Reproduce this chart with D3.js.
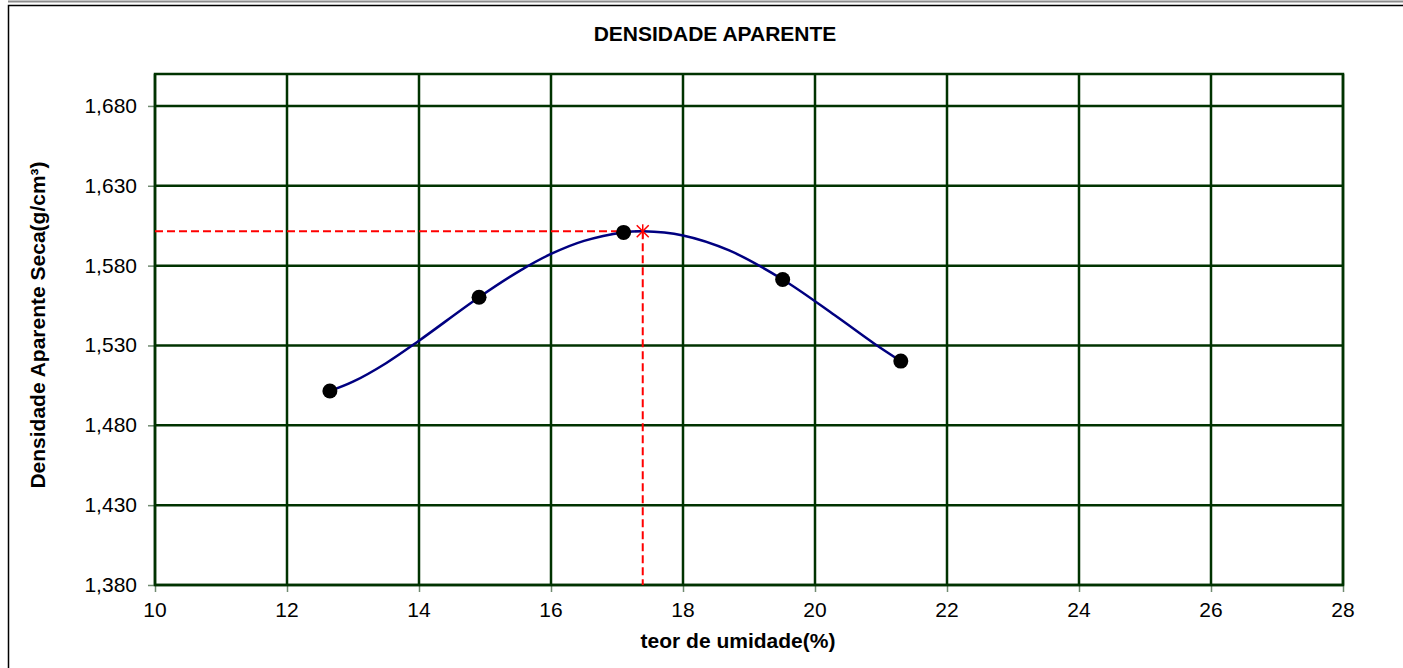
<!DOCTYPE html>
<html>
<head>
<meta charset="utf-8">
<script src="https://cdn.jsdelivr.net/npm/d3@7"></script>
<style>
  body { margin: 0; background: #fff; }
  svg { display: block; font-family: Arial, "Liberation Sans", sans-serif; }
</style>
</head>
<body>
<svg id="chart" width="1403" height="668"></svg>
<script>
const umidade = [12.65, 14.91, 17.10, 19.51, 21.30];
const densidade = [1.5015, 1.5602, 1.6008, 1.5713, 1.5202];
// the smoothed curve as drawn in the picture, read at several x positions
const curvaUmidade = [12.65, 13.0, 13.5, 14.0, 14.91, 15.5, 16.0, 16.5, 17.10, 17.39, 18.0, 18.7, 19.51, 20.3, 20.9, 21.30];
const curvaDensidade = [1.5015, 1.5073, 1.5189, 1.5330, 1.5602, 1.5761, 1.5873, 1.5955, 1.6008, 1.6015, 1.5989, 1.5895, 1.5713, 1.5489, 1.5311, 1.5202];
// optimum (star)
const umidadeOtima = [17.39];
const densidadeMaxima = [1.6015];
const xTicks = [10, 12, 14, 16, 18, 20, 22, 24, 26, 28];
const yTicks = [1.38, 1.43, 1.48, 1.53, 1.58, 1.63, 1.68];

const titulo = 'DENSIDADE APARENTE';
const xTitulo = 'teor de umidade(%)';
const yTitulo = 'Densidade Aparente Seca(g/cm³)';

const W = 1403, H = 668;
const plot = { left: 155, right: 1343, top: 74, bottom: 585 };
const gridColor = '#003300';
const fontSize = 21;

const svg = d3.select('#chart');

// outer frame
svg.append('line')
    .attr('x1', 8).attr('x2', W).attr('y1', 1.5).attr('y2', 1.5)
    .attr('stroke', '#8c8c8c').attr('stroke-width', 2);
svg.append('rect')
    .attr('x', 8.5).attr('y', 5.5)
    .attr('width', W + 10).attr('height', H + 10)
    .attr('fill', 'none').attr('stroke', '#000').attr('stroke-width', 1.5);

const x = d3.scaleLinear().domain([10, 28]).range([plot.left, plot.right]);
const y = d3.scaleLinear().domain([1.38, 1.70]).range([plot.bottom, plot.top]);

// tick marks (outside)
const xAxis = d3.axisBottom(x).tickValues(xTicks).tickSize(7).tickFormat('');
const yAxis = d3.axisLeft(y).tickValues(yTicks).tickSize(7).tickFormat('');
const gx = svg.append('g').attr('transform', `translate(0,${plot.bottom})`).call(xAxis);
const gy = svg.append('g').attr('transform', `translate(${plot.left},0)`).call(yAxis);
[gx, gy].forEach(g => {
    g.select('.domain').remove();
    g.selectAll('.tick line').attr('stroke', '#6f8a6f').attr('stroke-width', 1.5);
});

// grid
const grid = svg.append('g').attr('stroke', gridColor).attr('stroke-width', 2.5);
grid.selectAll('.vx').data(xTicks).enter().append('line')
    .attr('x1', d => x(d)).attr('x2', d => x(d))
    .attr('y1', plot.top).attr('y2', plot.bottom);
grid.selectAll('.hy').data(yTicks).enter().append('line')
    .attr('x1', plot.left).attr('x2', plot.right)
    .attr('y1', d => y(d)).attr('y2', d => y(d));
grid.append('rect')
    .attr('x', plot.left).attr('y', plot.top)
    .attr('width', plot.right - plot.left).attr('height', plot.bottom - plot.top)
    .attr('fill', 'none');

// tick labels
const fmt = d => d3.format('.3f')(d).replace('.', ',');
svg.append('g').selectAll('text').data(xTicks).enter().append('text')
    .attr('x', d => x(d)).attr('y', plot.bottom + 32)
    .attr('text-anchor', 'middle').attr('font-size', fontSize)
    .text(d => d);
svg.append('g').selectAll('text').data(yTicks).enter().append('text')
    .attr('x', plot.left - 18).attr('y', d => y(d) + 7)
    .attr('text-anchor', 'end').attr('font-size', fontSize)
    .text(fmt);

// reference lines to the optimum
const ref = svg.append('g')
    .attr('stroke', '#ff0000').attr('stroke-width', 2).attr('stroke-dasharray', '8,4').attr('fill', 'none');
ref.append('line')
    .attr('x1', plot.left).attr('x2', x(umidadeOtima[0]))
    .attr('y1', y(densidadeMaxima[0])).attr('y2', y(densidadeMaxima[0]));
ref.append('line')
    .attr('x1', x(umidadeOtima[0])).attr('x2', x(umidadeOtima[0]))
    .attr('y1', y(densidadeMaxima[0])).attr('y2', plot.bottom);

// smoothed curve
const curva = curvaUmidade.map((u, i) => [u, curvaDensidade[i]]);
const line = d3.line().x(d => x(d[0])).y(d => y(d[1])).curve(d3.curveCatmullRom.alpha(0.5));
svg.append('path').datum(curva)
    .attr('d', line)
    .attr('fill', 'none').attr('stroke', '#000080').attr('stroke-width', 2.5);

// measured points
const pts = umidade.map((u, i) => [u, densidade[i]]);
svg.append('g').selectAll('circle').data(pts).enter().append('circle')
    .attr('cx', d => x(d[0])).attr('cy', d => y(d[1])).attr('r', 7.5)
    .attr('fill', '#000');

// star marker at optimum
const star = svg.append('g')
    .attr('transform', `translate(${x(umidadeOtima[0])},${y(densidadeMaxima[0])})`)
    .attr('stroke', '#ff0000').attr('stroke-width', 1.5);
star.append('line').attr('x1', 0).attr('x2', 0).attr('y1', -7).attr('y2', 7);
star.append('line').attr('x1', -6).attr('x2', 6).attr('y1', -6).attr('y2', 6);
star.append('line').attr('x1', -6).attr('x2', 6).attr('y1', 6).attr('y2', -6);

// titles
svg.append('text')
    .attr('x', 715).attr('y', 41)
    .attr('text-anchor', 'middle').attr('font-size', fontSize).attr('font-weight', 'bold')
    .text(titulo);
svg.append('text')
    .attr('x', 738).attr('y', 648)
    .attr('text-anchor', 'middle').attr('font-size', fontSize).attr('font-weight', 'bold')
    .text(xTitulo);
svg.append('text')
    .attr('transform', 'translate(45,325) rotate(-90)')
    .attr('text-anchor', 'middle').attr('font-size', fontSize).attr('font-weight', 'bold')
    .text(yTitulo);
</script>
</body>
</html>
